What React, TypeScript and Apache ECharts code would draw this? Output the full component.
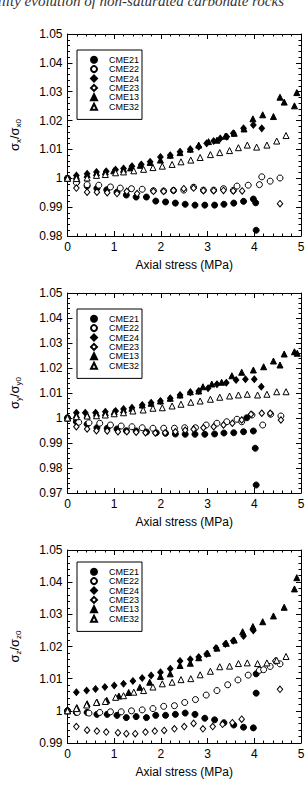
import React, { useEffect, useRef } from 'react';
import * as echarts from 'echarts';

const seriesNames = ['CME21', 'CME22', 'CME24', 'CME23', 'CME13', 'CME32'];
const xLabel = 'Axial stress (MPa)';
const caption = 'Permeability evolution of non-saturated carbonate rocks';

// Panel 1: sigma_x / sigma_x0
const sx_CME21 = [[0, 1.0], [0.2, 0.9987], [0.42, 0.9973], [0.63, 0.9965], [0.84, 0.996], [1.06, 0.9952], [1.26, 0.9942], [1.47, 0.9935], [1.69, 0.9935], [1.89, 0.9921], [2.1, 0.9918], [2.31, 0.9914], [2.52, 0.991], [2.73, 0.9907], [2.94, 0.9907], [3.15, 0.9907], [3.35, 0.991], [3.56, 0.9914], [3.77, 0.992], [3.98, 0.9928], [4.03, 0.9915], [4.04, 0.982]];
const sx_CME22 = [[0, 1.0], [0.19, 0.9985], [0.42, 0.9978], [0.67, 0.9976], [0.92, 0.997], [1.13, 0.9966], [1.37, 0.9964], [1.6, 0.9962], [1.84, 0.9957], [2.06, 0.9956], [2.27, 0.9958], [2.49, 0.9959], [2.7, 0.9969], [2.91, 0.9959], [3.13, 0.9959], [3.34, 0.9964], [3.55, 0.9958], [3.63, 0.9973], [3.87, 0.9976], [4.11, 0.9978], [4.16, 1.0005], [4.34, 0.999], [4.55, 1.0001]];
const sx_CME24 = [[0, 1.0], [0.19, 1.001], [0.42, 1.0016], [0.62, 1.0022], [0.83, 1.0024], [1.03, 1.003], [1.2, 1.0034], [1.38, 1.0042], [1.58, 1.0048], [1.77, 1.0057], [1.99, 1.0074], [2.2, 1.008], [2.41, 1.0092], [2.63, 1.0101], [2.81, 1.0109], [2.98, 1.0121], [3.13, 1.0129], [3.27, 1.0138], [3.41, 1.0144], [3.55, 1.0156], [3.77, 1.0173], [3.98, 1.0185], [4.16, 1.0173]];
const sx_CME23 = [[0, 1.0], [0.19, 0.9966], [0.42, 0.9952], [0.63, 0.9952], [0.85, 0.995], [1.06, 0.9947], [1.27, 0.9955], [1.49, 0.9947], [1.84, 0.9955], [2.06, 0.9955], [2.27, 0.9958], [2.49, 0.9964], [2.7, 0.9966], [2.91, 0.9957], [3.13, 0.9957], [3.34, 0.9958], [3.55, 0.9956], [3.74, 0.9956], [4.55, 0.9912]];
const sx_CME13 = [[0, 1.0], [0.19, 1.0007], [0.42, 1.0013], [0.62, 1.0019], [0.81, 1.0022], [0.99, 1.0026], [1.2, 1.0031], [1.35, 1.0036], [1.56, 1.0045], [1.77, 1.0055], [1.99, 1.0063], [2.2, 1.008], [2.41, 1.0089], [2.63, 1.0101], [2.81, 1.0115], [3.02, 1.0127], [3.2, 1.0132], [3.38, 1.0146], [3.57, 1.0156], [3.78, 1.0171], [3.97, 1.0206], [4.18, 1.022], [4.41, 1.0214], [4.55, 1.0281], [4.64, 1.0264], [4.86, 1.0251], [4.91, 1.0297]];
const sx_CME32 = [[0, 1.0], [0.19, 0.9999], [0.42, 1.0001], [0.62, 1.001], [0.81, 1.0013], [1.03, 1.0019], [1.2, 1.0022], [1.42, 1.0026], [1.63, 1.0031], [1.83, 1.0037], [2.03, 1.0042], [2.24, 1.0048], [2.43, 1.0057], [2.64, 1.0063], [2.84, 1.0072], [3.06, 1.0082], [3.26, 1.0089], [3.47, 1.0096], [3.66, 1.0106], [3.85, 1.0115], [4.05, 1.0108], [4.27, 1.0115], [4.48, 1.0129], [4.68, 1.0148]];

// Panel 2: sigma_y / sigma_y0
const sy_CME21 = [[0, 1.0], [0.19, 0.9985], [0.42, 0.9975], [0.63, 0.9961], [0.85, 0.9959], [1.06, 0.9956], [1.26, 0.9949], [1.47, 0.9948], [1.69, 0.9944], [1.9, 0.9941], [2.1, 0.9939], [2.31, 0.9936], [2.52, 0.9935], [2.73, 0.9935], [2.94, 0.9935], [3.15, 0.9936], [3.35, 0.994], [3.56, 0.9941], [3.77, 0.9945], [3.98, 0.9948], [3.84, 1.0001], [4.02, 0.9879], [4.04, 0.9732]];
const sy_CME22 = [[0, 1.0], [0.24, 0.9983], [0.46, 0.9981], [0.69, 0.9979], [0.92, 0.9972], [1.15, 0.9968], [1.38, 0.9965], [1.6, 0.9961], [1.83, 0.9959], [2.06, 0.9959], [2.29, 0.9959], [2.51, 0.9961], [2.74, 0.9961], [2.97, 0.9972], [3.2, 0.9979], [3.41, 0.9985], [3.63, 0.9995], [3.73, 0.9985], [3.95, 1.0012], [4.18, 0.9972], [4.35, 1.0015], [4.57, 1.0008]];
const sy_CME24 = [[0, 1.0], [0.19, 1.0021], [0.38, 1.0021], [0.6, 1.0021], [0.81, 1.0025], [1.03, 1.0028], [1.2, 1.0036], [1.38, 1.0041], [1.6, 1.0052], [1.79, 1.0061], [1.99, 1.0068], [2.2, 1.0079], [2.41, 1.0092], [2.63, 1.0103], [2.81, 1.0108], [3.01, 1.0119], [3.2, 1.0135], [3.4, 1.0141], [3.61, 1.0152], [3.81, 1.0155], [4.0, 1.0155], [4.15, 1.0125]];
const sy_CME23 = [[0, 1.0], [0.19, 0.9965], [0.42, 0.9956], [0.62, 0.9949], [0.85, 0.9948], [1.08, 0.9945], [1.27, 0.9945], [1.47, 0.9943], [1.67, 0.9941], [1.88, 0.994], [2.09, 0.9941], [2.31, 0.9945], [2.52, 0.9951], [2.7, 0.9955], [2.91, 0.9961], [3.13, 0.9965], [3.34, 0.9972], [3.53, 0.9979], [3.73, 0.9992], [3.93, 1.0015], [4.16, 1.0019], [4.34, 1.0019], [4.57, 0.9992]];
const sy_CME13 = [[0, 1.0], [0.19, 1.0012], [0.42, 1.0012], [0.62, 1.0019], [0.81, 1.0021], [1.0, 1.0025], [1.2, 1.0032], [1.38, 1.0039], [1.6, 1.0052], [1.79, 1.0059], [1.99, 1.0068], [2.2, 1.0079], [2.41, 1.0092], [2.63, 1.0105], [2.81, 1.0108], [2.9, 1.0125], [3.09, 1.0136], [3.3, 1.0143], [3.52, 1.0169], [3.73, 1.0183], [3.98, 1.0192], [4.2, 1.0205], [4.41, 1.0228], [4.55, 1.0212], [4.64, 1.0256], [4.86, 1.0265], [4.92, 1.0259]];
const sy_CME32 = [[0, 1.0], [0.19, 1.0005], [0.42, 1.0008], [0.62, 1.0009], [0.81, 1.0012], [1.0, 1.0017], [1.2, 1.0021], [1.4, 1.0028], [1.62, 1.0032], [1.83, 1.0039], [2.03, 1.0041], [2.24, 1.0048], [2.43, 1.0055], [2.64, 1.0063], [2.84, 1.0068], [3.06, 1.0075], [3.26, 1.0083], [3.47, 1.0088], [3.66, 1.0092], [3.85, 1.0095], [4.07, 1.0092], [4.27, 1.0095], [4.48, 1.0105], [4.68, 1.0105]];

// Panel 3: sigma_z / sigma_z0
const sz_CME21 = [[0, 1.0], [0.19, 0.9995], [0.42, 0.9995], [0.63, 0.9989], [0.85, 0.9989], [1.06, 0.9986], [1.26, 0.9979], [1.47, 0.9982], [1.69, 0.9979], [1.89, 0.9986], [2.1, 0.9986], [2.31, 0.9989], [2.52, 0.9993], [2.73, 0.9989], [2.94, 0.9977], [3.15, 0.9972], [3.35, 0.9963], [3.56, 0.9956], [3.77, 0.9949], [3.98, 0.9947], [4.04, 1.0055], [4.04, 1.0115]];
const sz_CME22 = [[0, 1.0], [0.21, 0.9995], [0.46, 0.9993], [0.69, 0.9995], [0.92, 0.9997], [1.15, 0.9997], [1.37, 1.0], [1.6, 1.0003], [1.83, 1.0007], [2.06, 1.0014], [2.29, 1.0016], [2.51, 1.0026], [2.74, 1.0035], [2.97, 1.0049], [3.2, 1.0063], [3.43, 1.0081], [3.65, 1.0096], [3.87, 1.0111], [4.11, 1.0126], [4.2, 1.0128], [4.34, 1.0138], [4.55, 1.0146]];
const sz_CME24 = [[0, 1.0], [0.19, 1.0058], [0.41, 1.0063], [0.6, 1.0068], [0.8, 1.0074], [1.0, 1.0079], [1.2, 1.0084], [1.4, 1.0093], [1.6, 1.0102], [1.79, 1.011], [1.99, 1.012], [2.2, 1.0131], [2.41, 1.0155], [2.63, 1.016], [2.81, 1.0167], [2.98, 1.0177], [3.18, 1.0195], [3.38, 1.0208], [3.55, 1.0218], [3.77, 1.0233], [3.98, 1.025]];
const sz_CME23 = [[0, 1.0], [0.19, 0.9951], [0.42, 0.994], [0.63, 0.9937], [0.83, 0.9934], [1.08, 0.9932], [1.26, 0.9929], [1.45, 0.9929], [1.67, 0.9934], [1.87, 0.9937], [2.07, 0.9939], [2.29, 0.9944], [2.5, 0.9951], [2.7, 0.9961], [2.9, 0.9944], [3.11, 0.9951], [3.32, 0.9958], [3.53, 0.9963], [3.73, 0.9974], [4.45, 1.0155], [4.55, 1.0067]];
const sz_CME13 = [[0, 1.0], [0.2, 1.001], [0.42, 1.0022], [0.63, 1.0027], [0.84, 1.0033], [1.1, 1.0046], [1.31, 1.0057], [1.55, 1.0073], [1.76, 1.0089], [1.99, 1.0107], [2.2, 1.0115], [2.41, 1.0141], [2.63, 1.0148], [2.81, 1.0165], [3.0, 1.0179], [3.2, 1.0195], [3.4, 1.021], [3.57, 1.022], [3.75, 1.0246], [3.97, 1.0262], [4.18, 1.0277], [4.41, 1.0295], [4.64, 1.0322], [4.86, 1.0379], [4.91, 1.0414]];
const sz_CME32 = [[0, 1.0], [0.19, 1.0007], [0.41, 1.0018], [0.62, 1.0026], [0.81, 1.0029], [1.03, 1.0042], [1.2, 1.0047], [1.42, 1.0058], [1.63, 1.0063], [1.83, 1.0074], [2.03, 1.0084], [2.24, 1.0089], [2.43, 1.0097], [2.64, 1.01], [2.84, 1.0112], [3.06, 1.0123], [3.26, 1.0137], [3.47, 1.0139], [3.66, 1.0147], [3.85, 1.0149], [4.07, 1.0147], [4.27, 1.0149], [4.48, 1.0157], [4.68, 1.0169]];

const panelData = [
  [sx_CME21, sx_CME22, sx_CME24, sx_CME23, sx_CME13, sx_CME32],
  [sy_CME21, sy_CME22, sy_CME24, sy_CME23, sy_CME13, sy_CME32],
  [sz_CME21, sz_CME22, sz_CME24, sz_CME23, sz_CME13, sz_CME32],
];
const yMins = [0.98, 0.97, 0.99];
const yMaxs = [1.05, 1.05, 1.05];
const ySubs = ['x', 'y', 'z'];

const FONT = 'Liberation Sans, Arial, sans-serif';

export default function App() {
  const ref = useRef<HTMLDivElement>(null);
  useEffect(() => {
    if (!ref.current) return;
    const chart = echarts.init(ref.current, null, { renderer: 'svg' });
    const grids = [
      { left: 67, width: 234, top: 34, height: 202 },
      { left: 67, width: 234, top: 293, height: 200 },
      { left: 67, width: 234, top: 550, height: 193 },
    ];
    const legendTops = [50, 309, 562];
    const symbols = [
      { symbol: 'circle', color: '#000', border: '#000' },
      { symbol: 'circle', color: '#fff', border: '#000' },
      { symbol: 'diamond', color: '#000', border: '#000' },
      { symbol: 'diamond', color: '#fff', border: '#000' },
      { symbol: 'triangle', color: '#000', border: '#000' },
      { symbol: 'triangle', color: '#fff', border: '#000' },
    ];
    const sizes: any[] = [6, 6, [5.5, 6.5], [5.5, 6.5], 6, 6];

    const tickCommon = {
      axisLine: { show: true, onZero: false, lineStyle: { color: '#000', width: 1 } },
      axisTick: { show: true, inside: true, length: 5, lineStyle: { color: '#000', width: 1 } },
      minorTick: { show: true, splitNumber: 5, length: 2.5, lineStyle: { color: '#000', width: 1 } },
      splitLine: { show: false },
      minorSplitLine: { show: false },
    };

    const xAxis: any[] = [];
    const yAxis: any[] = [];
    const series: any[] = [];
    const legend: any[] = [];

    grids.forEach((g, gi) => {
      xAxis.push({
        type: 'value', gridIndex: gi, min: 0, max: 5, interval: 1, position: 'bottom', ...tickCommon,
        axisLabel: { show: true, margin: 5, color: '#000', fontSize: 12, fontFamily: FONT },
        name: xLabel, nameLocation: 'middle', nameGap: 23,
        nameTextStyle: { color: '#000', fontSize: 12, fontFamily: FONT },
      });
      xAxis.push({
        type: 'value', gridIndex: gi, min: 0, max: 5, interval: 1, position: 'top', ...tickCommon,
        axisLabel: { show: false },
      });
      const s = ySubs[gi];
      yAxis.push({
        type: 'value', gridIndex: gi, min: yMins[gi], max: yMaxs[gi], interval: 0.01, position: 'left', ...tickCommon,
        axisLabel: {
          show: true, margin: 5, color: '#000', fontSize: 12, fontFamily: FONT,
          formatter: (v: number) => String(Math.round(v * 100) / 100),
        },
        name: `{a|σ}{b|${s}}{a|/σ}{b|${s}0}`,
        nameLocation: 'middle', nameGap: 45, nameRotate: 90,
        nameTextStyle: {
          color: '#000', fontFamily: FONT,
          rich: {
            a: { fontSize: 13, lineHeight: 16, fontFamily: FONT, color: '#000' },
            b: { fontSize: 8, lineHeight: 8, verticalAlign: 'bottom', fontFamily: FONT, color: '#000' },
          },
        },
      });
      yAxis.push({
        type: 'value', gridIndex: gi, min: yMins[gi], max: yMaxs[gi], interval: 0.01, position: 'right', ...tickCommon,
        axisLabel: { show: false },
      });
      panelData[gi].forEach((data, si) => {
        series.push({
          type: 'scatter', name: seriesNames[si], xAxisIndex: gi * 2, yAxisIndex: gi * 2,
          data, symbol: symbols[si].symbol, symbolSize: sizes[si],
          itemStyle: { color: symbols[si].color, borderColor: symbols[si].border, borderWidth: 1, opacity: 1 },
          emphasis: { disabled: true },
        });
      });
      legend.push({
        show: true, orient: 'vertical', left: 77, top: legendTops[gi],
        data: seriesNames, selectedMode: false,
        itemWidth: 6, itemHeight: 6, itemGap: 0, padding: [5, 3, 8, 13],
        borderColor: '#000', borderWidth: 1, backgroundColor: '#fff',
        textStyle: { fontSize: 9, lineHeight: 9.4, color: '#000', fontFamily: FONT, padding: [0, 0, 0, 7] },
      });
    });

    chart.setOption({
      animation: false,
      backgroundColor: '#fff',
      grid: grids,
      xAxis, yAxis, series, legend,
      graphic: [
        {
          type: 'text', right: 24, top: -7,
          style: { text: caption, fontSize: 15, fontStyle: 'italic', fontFamily: 'Liberation Serif, serif', fill: '#333' },
        },
      ],
    });
    return () => chart.dispose();
  }, []);
  return <div ref={ref} style={{ position: 'absolute', left: 0, top: 0, width: 308, height: 787 }} />;
}
